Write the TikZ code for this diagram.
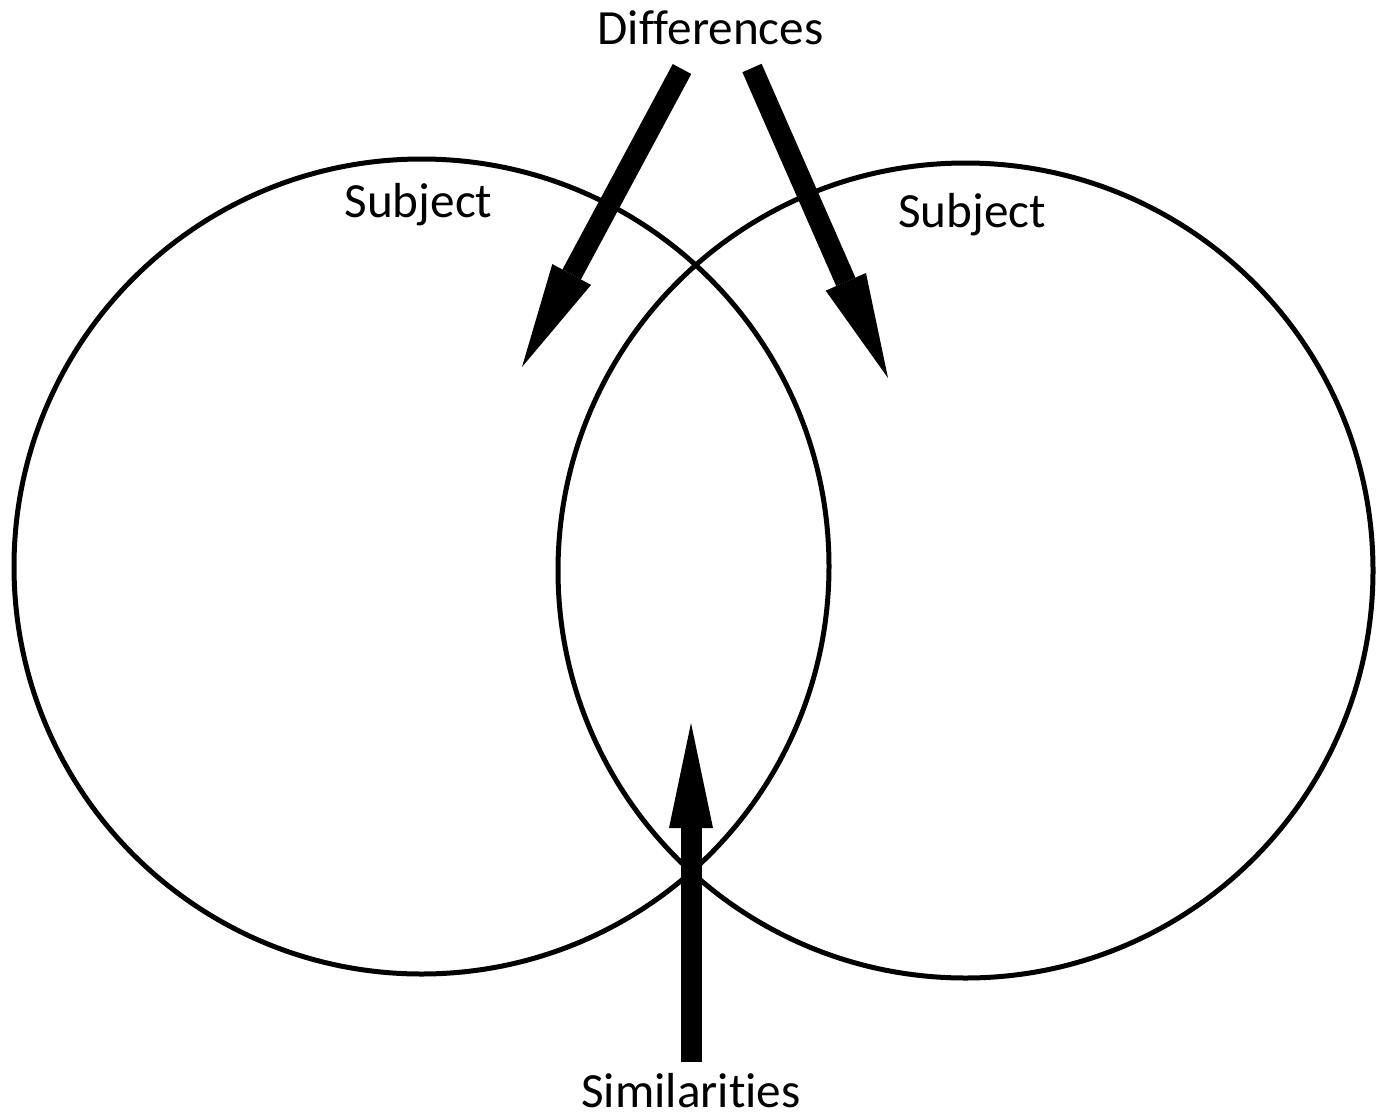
\documentclass[tikz,border=0pt]{standalone}
\usepackage{fontspec}
\setmainfont[Ligatures=NoCommon]{Carlito}
\usetikzlibrary{arrows.meta}

\begin{document}
\begin{tikzpicture}[
  ring/.style={draw,circle,line width=0.5mm,minimum size=8.15cm,inner sep=0pt},
  lbl/.style={anchor=base,font=\fontsize{14}{17}\selectfont},
  fat/.style={-{Triangle[length=10.5mm,width=4.4mm,line width=0pt]},line width=2.1mm}
]
\useasboundingbox (0,0) rectangle (13.86,11.16);
\node[ring] (left) at (4.215,5.495) {};
\node[ring] (right) at (9.655,5.455) {};
\node[lbl] (diff) at (7.105,10.71) {Differences};
\node[lbl] (subjl) at (4.185,8.99) {Subject};
\node[lbl] (subjr) at (9.72,8.89) {Subject};
\node[lbl] (sim) at (6.91,0.09) {Similarities};
% arrow ends
\coordinate (dl) at (6.82,10.47);
\coordinate (dr) at (7.52,10.48);
\coordinate (dltip) at (5.22,7.49);
\coordinate (drtip) at (8.88,7.38);
\coordinate (s0) at (6.91,0.54);
\coordinate (stip) at (6.91,3.93);
\draw[fat] (dl) -- (dltip);
\draw[fat] (dr) -- (drtip);
\draw[fat] (s0) -- (stip);
\end{tikzpicture}
\end{document}
